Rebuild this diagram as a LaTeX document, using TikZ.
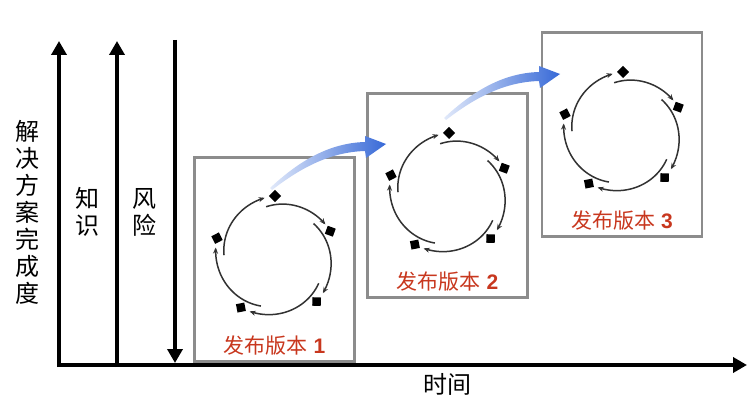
\documentclass[tikz,border=0pt]{standalone}
\usepackage{fontspec}
\setmainfont{Liberation Sans}
\newfontfamily\cjk{Noto Sans CJK SC}
\usetikzlibrary{arrows.meta}
\definecolor{boxgray}{RGB}{140,140,140}
\definecolor{labred}{RGB}{200,55,30}
\definecolor{arrblue}{RGB}{55,105,215}
\definecolor{arrlight}{RGB}{225,233,250}
\definecolor{cycgray}{RGB}{50,50,50}
\newcommand\sarc[2]{\draw[cycline] plot[domain=#1:#2,samples=40,smooth] ({(51+9*(#1-\x)/(#1-#2))*cos(\x)},{(51+9*(#1-\x)/(#1-#2))*sin(\x)});}
\tikzset{
  axis/.style={line width=4pt,-{Triangle[length=14pt,width=15pt]}},
  vbox/.style={draw=boxgray,line width=2.5pt,fill=white,minimum width=160pt,minimum height=204pt,inner sep=0pt},
  lab/.style={text=labred,font=\fontsize{21}{23}\selectfont,inner sep=0pt},
  axlab/.style={font=\cjk\fontsize{24}{27}\selectfont,align=center,inner sep=0pt},
  cycline/.style={draw=cycgray,line width=1.5pt,-{Stealth[length=6pt,width=5pt]}},
  sq/.style={fill=black,minimum size=8.5pt,inner sep=0pt,rectangle},
  cyclepic/.pic={
    \sarc{100}{33}
    \sarc{41}{-37}
    \sarc{-31}{-115}
    \sarc{-106}{-189}
    \sarc{-182}{-260}
    \foreach \a in {90,25,-47,-124,162} \node[sq,rotate=\a-45] at (\a:61pt) {};
  },
  bluearrow/.pic={
    \shade[left color=arrlight,right color=arrblue]
      (270,216) .. controls (300,244) and (330,261) .. (365,262)
      -- (365,268) -- (386,260) -- (366,246) -- (365,253)
      .. controls (332,252) and (303,238) .. (272,214) -- cycle;
  }
}
\begin{document}
\begin{tikzpicture}[x=1pt,y=1pt]
\useasboundingbox (0,0) rectangle (751,404);
% axes
\coordinate (o) at (57,39);
\coordinate (xend) at (747,39);
\draw[axis] (o) -- (xend);
\coordinate (k0) at (59,37);
\coordinate (k1) at (59,363);
\draw[axis] (k0) -- (k1);
\coordinate (s0) at (117,37);
\coordinate (s1) at (117,363);
\draw[axis] (s0) -- (s1);
\coordinate (r0) at (175,364);
\coordinate (r1) at (175,41);
\draw[axis] (r0) -- (r1);
% axis labels
\node[axlab] (ty) at (28,192) {解\\决\\方\\案\\完\\成\\度};
\node[axlab] (tk) at (87,192) {知\\识};
\node[axlab] (tr) at (144,192) {风\\险};
\node[axlab] (tt) at (447,20) {时间};
% boxes
\node[vbox] (v1) at (274.5,144.5) {};
\node[vbox] (v2) at (447.5,208.5) {};
\node[vbox] (v3) at (622,269.5) {};
\node[lab] (l1) at ([yshift=17pt]v1.south) {{\cjk 发布版本} \textbf{1}};
\node[lab] (l2) at ([yshift=17pt]v2.south) {{\cjk 发布版本} \textbf{2}};
\node[lab] (l3) at ([yshift=17pt]v3.south) {{\cjk 发布版本} \textbf{3}};
% cycles
\pic at (275,147) {cyclepic};
\pic at (449,210) {cyclepic};
\pic at (623,271) {cyclepic};
% blue arrows
\pic at (0,0) {bluearrow};
\pic at (174,70) {bluearrow};
\end{tikzpicture}
\end{document}
